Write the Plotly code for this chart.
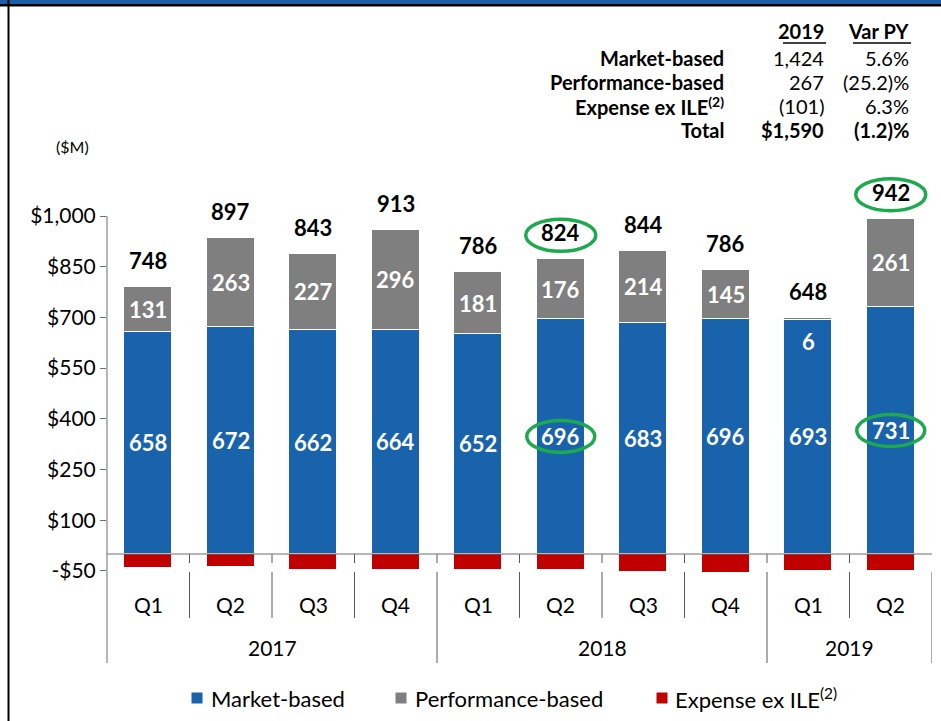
import plotly.graph_objects as go

# ---------------- data ----------------
quarters = ["Q1", "Q2", "Q3", "Q4", "Q1", "Q2", "Q3", "Q4", "Q1", "Q2"]
years = ["2017", "2018", "2019"]
year_counts = [4, 4, 2]
market = [658, 672, 662, 664, 652, 696, 683, 696, 693, 731]
performance = [131, 263, 227, 296, 181, 176, 214, 145, 6, 261]
expense = [-41, -38, -46, -47, -47, -48, -53, -55, -51, -50]
totals = [748, 897, 843, 913, 786, 824, 844, 786, 648, 942]
ytick_vals = [1000, 850, 700, 550, 400, 250, 100, -50]
ytick_text = ["$1,000", "$850", "$700", "$550", "$400", "$250", "$100", "-$50"]
series_names = ["Market-based", "Performance-based", "Expense ex ILE<sup>(2)</sup>"]
table_rows = ["Market-based", "Performance-based", "Expense ex ILE<sup>(2)</sup>", "Total"]
table_2019 = ["1,424", "267", "(101)", "$1,590"]
table_var = ["5.6%", "(25.2)%", "6.3%", "(1.2)%"]
table_bold = [False, False, False, True]
highlight_totals = [5, 9]
highlight_market = [5, 9]
small_perf = [8]  # performance label drawn inside blue bar

# ---------------- styling ----------------
BLUE = "#1963AD"
GRAY = "#7F7F7F"
RED = "#C00000"
GREEN = "#1DAA4F"
AXC = "#6f6f6f"
FONT = "Lato"
W, H = 941, 721
L, R, T, B = 107, 9, 0, 58
pw, ph = W - L - R, H - T - B
ZERO_PX, TOP_PX = 554, 216
PXU = (ZERO_PX - TOP_PX) / 1000.0
ymin = -(H - B - ZERO_PX) / PXU
ymax = (ZERO_PX - T) / PXU


def px(x):
    return (x - L) / pw


def py(y):
    return (H - B - y) / ph


x = list(range(len(market)))
colors = [BLUE, GRAY, RED]

fig = go.Figure()
for vals, nm, col in zip([market, performance, expense], series_names, colors):
    fig.add_bar(x=x, y=vals, name=nm, marker=dict(color=col, line=dict(color="white", width=1)),
                width=0.58, showlegend=False)

ann = []
shapes = []
LBL = dict(family=FONT, size=22, color="white")

# inside labels and totals
for i in x:
    ann.append(dict(x=i, y=market[i] / 2, text=f"<b>{market[i]}</b>", showarrow=False, font=LBL,
                    xref="x", yref="y", yanchor="middle"))
    if i in small_perf:
        ann.append(dict(x=i, y=market[i], yanchor="top", yshift=-6, text=f"<b>{performance[i]}</b>",
                        showarrow=False, font=LBL, xref="x", yref="y"))
    else:
        ann.append(dict(x=i, y=market[i] + performance[i] / 2, text=f"<b>{performance[i]}</b>",
                        showarrow=False, font=LBL, xref="x", yref="y", yanchor="middle"))
    ann.append(dict(x=i, y=market[i] + performance[i], yanchor="bottom", yshift=11,
                    text=f"<b>{totals[i]}</b>", showarrow=False,
                    font=dict(family=FONT, size=22, color="black"), xref="x", yref="y"))
    ann.append(dict(x=i, y=-148, text=quarters[i], showarrow=False, yanchor="middle",
                    font=dict(family=FONT, size=21, color="black"), xref="x", yref="y"))

# year labels
start = 0
for yr, n in zip(years, year_counts):
    ann.append(dict(x=start + (n - 1) / 2, y=-278, text=yr, showarrow=False, yanchor="middle",
                    font=dict(family=FONT, size=21, color="black"), xref="x", yref="y"))
    start += n

# dividers
div_color = "#595959"
boundaries = []
s = 0
for n in year_counts:
    s += n
    boundaries.append(s - 0.5)
for i in range(1, len(x)):
    b = i - 0.5
    bottom = ymin if b in boundaries else -189
    shapes.append(dict(type="line", xref="x", yref="y", x0=b, x1=b, y0=0, y1=-27,
                       line=dict(color=div_color, width=1)))
    shapes.append(dict(type="line", xref="x", yref="y", x0=b, x1=b, y0=-53, y1=bottom,
                       line=dict(color=div_color, width=1)))
shapes.append(dict(type="line", xref="x", yref="y", x0=len(x) - 0.5, x1=len(x) - 0.5, y0=-53, y1=ymin,
                   line=dict(color=div_color, width=1)))
# y axis line
shapes.append(dict(type="line", xref="paper", yref="y", x0=0, x1=0, y0=ymin, y1=1000,
                   line=dict(color=AXC, width=1)))
# zero line
shapes.append(dict(type="line", xref="paper", yref="y", x0=0, x1=1, y0=0, y1=0,
                   line=dict(color=AXC, width=1), layer="above"))

# green ellipses
for i in highlight_totals:
    c = 11 + 13
    shapes.append(dict(type="circle", xref="x", yref="y", xsizemode="pixel", ysizemode="pixel",
                       xanchor=i, yanchor=market[i] + performance[i],
                       x0=-35, x1=35, y0=c - 16, y1=c + 16, line=dict(color=GREEN, width=3.5)))
for i in highlight_market:
    shapes.append(dict(type="circle", xref="x", yref="y", xsizemode="pixel", ysizemode="pixel",
                       xanchor=i, yanchor=market[i] / 2,
                       x0=-34, x1=34, y0=-16, y1=16, line=dict(color=GREEN, width=3.5)))

# frame: top band and left border
shapes.append(dict(type="rect", xref="paper", yref="paper", x0=px(0), x1=px(W), y0=py(0), y1=py(4),
                   fillcolor="#1A5FA8", line=dict(width=0)))
shapes.append(dict(type="rect", xref="paper", yref="paper", x0=px(0), x1=px(W), y0=py(4), y1=py(6.5),
                   fillcolor="black", line=dict(width=0)))
shapes.append(dict(type="line", xref="paper", yref="paper", x0=px(8.5), x1=px(8.5), y0=py(0), y1=py(H),
                   line=dict(color="black", width=2)))

# ($M)
ann.append(dict(x=px(72), y=py(146), xref="paper", yref="paper", text="($M)", showarrow=False,
                xanchor="center", yanchor="middle", font=dict(family=FONT, size=16, color="black")))

# table
TF = 20
row_y = [58, 82, 106, 130]
for txt, xr in [("<b>2019</b>", 826), ("<b>Var PY</b>", 911)]:
    ann.append(dict(x=px(xr), y=py(31), xref="paper", yref="paper", xanchor="right", yanchor="middle",
                    text=txt, showarrow=False, font=dict(family=FONT, size=TF, color="black")))
shapes.append(dict(type="line", xref="paper", yref="paper", x0=px(783), x1=px(826), y0=py(43), y1=py(43),
                   line=dict(color="black", width=1.5)))
shapes.append(dict(type="line", xref="paper", yref="paper", x0=px(853), x1=px(911), y0=py(43), y1=py(43),
                   line=dict(color="black", width=1.5)))
for lab, v, var, bold, yy in zip(table_rows, table_2019, table_var, table_bold, row_y):
    vt = f"<b>{v}</b>" if bold else v
    vr = f"<b>{var}</b>" if bold else var
    for txt, xr in [(f"<b>{lab}</b>", 726), (vt, 826), (vr, 911)]:
        ann.append(dict(x=px(xr), y=py(yy), xref="paper", yref="paper", xanchor="right", yanchor="middle",
                        text=txt, showarrow=False, font=dict(family=FONT, size=TF, color="black")))

# legend (manual)
leg_sq_x = [197, 401, 662]
leg_tx_x = [209, 413, 673]
LEG_Y = 698
for nm, col, sx, tx in zip(series_names, colors, leg_sq_x, leg_tx_x):
    shapes.append(dict(type="rect", xref="paper", yref="paper", x0=px(sx - 5.5), x1=px(sx + 5.5),
                       y0=py(LEG_Y - 5.5), y1=py(LEG_Y + 5.5), fillcolor=col, line=dict(width=0)))
    ann.append(dict(x=px(tx), y=py(LEG_Y), xref="paper", yref="paper", xanchor="left", yanchor="middle",
                    text=nm, showarrow=False, font=dict(family=FONT, size=22, color="black")))

fig.update_layout(
    width=W, height=H,
    margin=dict(l=L, r=R, t=T, b=B, pad=0),
    plot_bgcolor="white", paper_bgcolor="white",
    barmode="relative",
    bargap=0,
    showlegend=False,
    xaxis=dict(range=[-0.5, len(x) - 0.5], showticklabels=False, showgrid=False, zeroline=False,
               showline=False, fixedrange=True),
    yaxis=dict(range=[ymin, ymax], tickvals=ytick_vals, ticktext=ytick_text, showgrid=False,
               zeroline=False, showline=False,
               ticks="outside", ticklen=6, tickcolor=AXC,
               tickfont=dict(family=FONT, size=21, color="black"), fixedrange=True),
    annotations=ann,
    shapes=shapes,
)

fig.write_html("out.html", config={"displayModeBar": False},
               post_script="document.body.style.margin='0px';")
